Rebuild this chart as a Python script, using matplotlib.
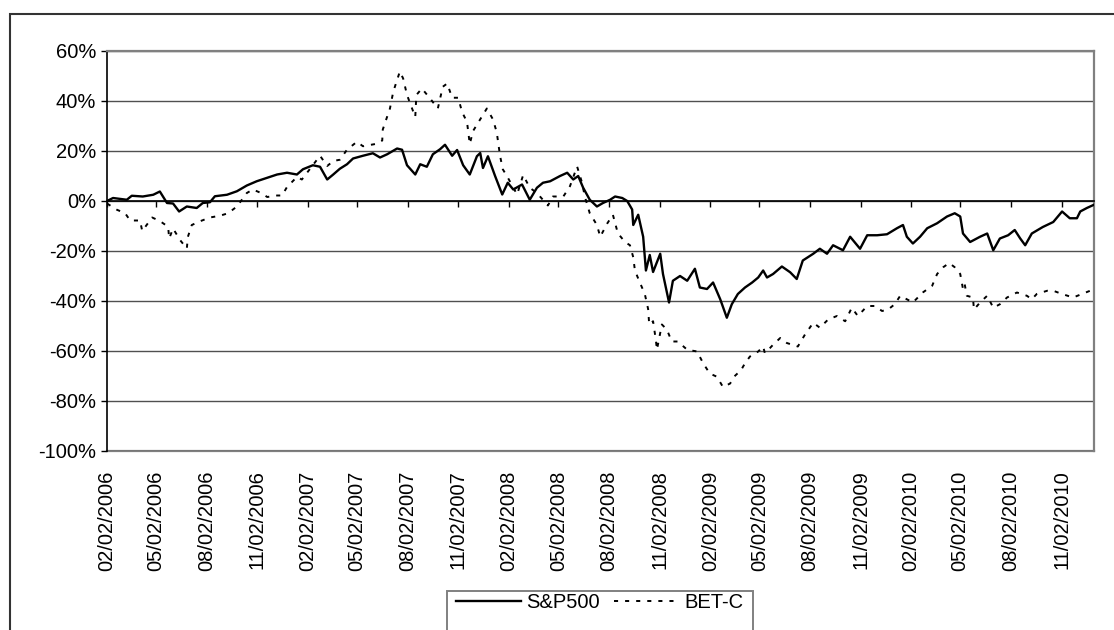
import matplotlib
matplotlib.use('Agg')
import matplotlib.pyplot as plt
import matplotlib.patches as mpatches
import pandas as pd

plt.rcParams['font.family'] = ['Liberation Sans', 'DejaVu Sans']

# ── data (days since 02/02/2006, cumulative return in %) ─────────────────────
START = '2006-02-02'

sp_days = [0, 11, 36, 45, 65, 84, 96, 109, 120, 131, 145, 163, 174, 187, 196, 218, 236,
           254, 272, 291, 309, 327, 345, 356, 374, 387, 400, 411, 423, 436, 447, 465,
           483, 496, 509, 527, 536, 545, 560, 569, 581, 592, 605, 614, 627, 636, 647,
           659, 672, 678, 683, 692, 705, 718, 728, 738, 754, 768, 781, 792, 805, 823,
           836, 847, 856, 865, 877, 890, 901, 914, 923, 936, 945, 954, 956, 965, 974,
           979, 986, 992, 1005, 1010, 1021, 1028, 1041, 1054, 1068, 1077, 1090, 1101,
           1114, 1126, 1135, 1146, 1159, 1172, 1183, 1192, 1199, 1210, 1226, 1241, 1253,
           1264, 1283, 1295, 1308, 1319, 1337, 1350, 1368, 1381, 1399, 1417, 1435, 1446,
           1453, 1464, 1477, 1490, 1508, 1526, 1540, 1550, 1555, 1568, 1586, 1599, 1610,
           1622, 1637, 1649, 1659, 1668, 1680, 1700, 1719, 1735, 1749, 1762, 1768, 1780,
           1793]
sp_vals = [0.0, 1.2, 0.5, 2.1, 1.8, 2.5, 3.8, -0.8, -1.0, -4.2, -2.2, -2.8, -0.8, -0.5,
           1.9, 2.5, 3.9, 6.2, 7.9, 9.3, 10.6, 11.3, 10.6, 12.7, 14.3, 13.7, 8.6, 10.6,
           12.9, 14.7, 17.0, 18.1, 19.1, 17.4, 18.7, 21.0, 20.5, 14.3, 10.6, 14.7, 13.7,
           18.7, 20.7, 22.5, 18.1, 20.4, 14.3, 10.6, 17.9, 19.2, 13.2, 17.9, 10.0, 2.6,
           7.3, 4.6, 6.6, 0.5, 5.3, 7.3, 7.9, 10.0, 11.3, 8.6, 10.0, 5.3, 0.5, -2.2, -0.8,
           0.5, 1.8, 1.2, 0.0, -3.4, -9.6, -5.5, -14.3, -27.8, -21.6, -28.4, -21.1, -29.2,
           -40.6, -31.9, -30.0, -31.9, -27.1, -34.6, -35.2, -32.6, -39.3, -46.7, -41.3,
           -37.2, -34.6, -32.6, -30.6, -27.8, -30.6, -29.2, -26.2, -28.5, -31.2, -23.8,
           -21.1, -19.1, -21.1, -17.7, -19.7, -14.3, -19.1, -13.7, -13.7, -13.3, -10.9,
           -9.6, -14.3, -17.0, -14.3, -10.9, -8.9, -6.2, -4.9, -6.2, -13.0, -16.4, -14.3,
           -13.0, -19.7, -15.0, -13.7, -11.6, -15.0, -17.7, -13.0, -10.4, -8.4, -4.2, -6.9,
           -6.9, -4.2, -2.8, -1.5]

bet_days = [0, 18, 33, 42, 60, 64, 82, 96, 111, 113, 120, 133, 145, 147, 154, 169, 187,
            205, 220, 236, 254, 265, 282, 291, 309, 318, 327, 345, 354, 369, 387, 400,
            411, 423, 436, 454, 465, 478, 490, 500, 501, 514, 520, 532, 538, 545, 560,
            562, 572, 587, 601, 610, 618, 627, 638, 645, 654, 659, 665, 678, 690, 701,
            708, 714, 719, 728, 745, 756, 768, 781, 801, 810, 829, 841, 854, 863, 868,
            877, 890, 896, 909, 919, 928, 941, 950, 956, 959, 968, 977, 983, 985, 992,
            997, 999, 1008, 1017, 1026, 1037, 1054, 1072, 1083, 1095, 1108, 1119, 1132,
            1139, 1152, 1159, 1168, 1183, 1192, 1195, 1204, 1210, 1223, 1235, 1255, 1268,
            1283, 1295, 1310, 1326, 1341, 1353, 1364, 1381, 1395, 1408, 1419, 1431, 1441,
            1453, 1464, 1482, 1499, 1508, 1519, 1530, 1540, 1550, 1555, 1558, 1562, 1573,
            1575, 1586, 1599, 1610, 1622, 1635, 1653, 1671, 1680, 1689, 1708, 1719, 1735,
            1755, 1771, 1786]
bet_vals = [-1.0, -3.5, -4.9, -7.8, -7.8, -12.0, -6.6, -8.0, -10.3, -15.0, -11.0, -15.7,
            -19.0, -14.3, -9.6, -8.1, -6.6, -5.9, -4.9, -2.2, 3.2, 4.6, 3.0, 1.6, 2.2, 2.2,
            5.6, 9.6, 8.6, 12.9, 18.1, 14.0, 16.0, 16.5, 20.5, 23.7, 21.9, 22.4, 22.9, 24.2,
            28.6, 37.0, 43.7, 51.8, 49.0, 42.4, 33.6, 42.4, 45.0, 41.0, 37.0, 45.7, 47.0,
            41.3, 41.3, 35.6, 31.6, 22.8, 28.0, 32.7, 37.0, 32.7, 27.5, 18.1, 12.7, 9.4,
            2.6, 10.4, 5.3, 3.2, -1.8, 1.8, 1.8, 5.9, 13.8, 7.3, 1.8, -4.9, -9.6, -14.3,
            -8.9, -5.5, -12.9, -16.4, -17.7, -22.5, -27.8, -32.6, -37.2, -43.2, -49.4,
            -48.1, -55.5, -59.5, -49.4, -51.4, -56.2, -56.2, -59.5, -60.2, -64.9, -69.0,
            -70.3, -74.4, -73.0, -70.3, -67.6, -64.9, -62.2, -60.2, -58.2, -60.8, -58.9,
            -57.5, -54.8, -56.8, -58.2, -53.4, -48.7, -50.7, -47.4, -46.0, -48.1, -42.7,
            -46.0, -42.0, -42.0, -44.0, -43.4, -41.3, -37.9, -39.3, -40.6, -36.6, -33.9,
            -29.2, -26.5, -24.8, -26.5, -29.2, -35.2, -33.2, -37.9, -38.6, -43.4, -40.6,
            -37.9, -42.7, -41.3, -38.6, -36.6, -37.9, -39.3, -37.2, -35.9, -35.9, -37.2,
            -38.6, -37.2, -35.9]

tick_labels = ['02/02/2006', '05/02/2006', '08/02/2006', '11/02/2006',
               '02/02/2007', '05/02/2007', '08/02/2007', '11/02/2007',
               '02/02/2008', '05/02/2008', '08/02/2008', '11/02/2008',
               '02/02/2009', '05/02/2009', '08/02/2009', '11/02/2009',
               '02/02/2010', '05/02/2010', '08/02/2010', '11/02/2010']
END_DAY = 1793  # 31/12/2010

start = pd.Timestamp(START)
tick_days = [(pd.to_datetime(t, format='%m/%d/%Y') - start).days for t in tick_labels]

# ── figure ────────────────────────────────────────────────────────────────────
W, H = 1114, 630
fig = plt.figure(figsize=(W / 100, H / 100), dpi=100, facecolor='white')
ax = fig.add_axes([107 / W, 1 - 451 / H, (1094 - 107) / W, (451 - 51) / H])

ax.plot(sp_days, sp_vals, color='black', lw=1.7, label='S&P500', zorder=3)
ax.plot(bet_days, bet_vals, color='black', lw=1.4, ls=(0, (2.1, 3.6)),
        label='BET-C', zorder=3)

ax.set_xlim(0, END_DAY)
ax.set_ylim(-100, 60)
ax.set_yticks(range(-100, 61, 20))
ax.set_yticklabels([f'{v}%' for v in range(-100, 61, 20)], fontsize=14.5)
ax.yaxis.grid(True, color='#505050', lw=1.0)
ax.set_axisbelow(True)

# axes lines
ax.spines['left'].set_color('black')
ax.spines['left'].set_linewidth(1.2)
ax.spines['bottom'].set_position(('data', 0))
ax.spines['bottom'].set_color('black')
ax.spines['bottom'].set_linewidth(1.2)
for s in ('top', 'right'):
    ax.spines[s].set_color('#808080')
    ax.spines[s].set_linewidth(1.6)

ax.tick_params(axis='y', direction='out', length=4, width=1, pad=4, colors='black')
ax.set_xticks(tick_days)
ax.tick_params(axis='x', direction='out', length=4, width=1, labelbottom=False)

# date labels at the bottom of the plot area
sec = ax.secondary_xaxis(0.0)
sec.set_xticks(tick_days)
sec.set_xticklabels(tick_labels, rotation=90, fontsize=14.5)
sec.tick_params(length=0, pad=14)
sec.spines['bottom'].set_color('#808080')
sec.spines['bottom'].set_linewidth(1.6)

# legend
leg = fig.legend(loc='center', bbox_to_anchor=(600 / W, 1 - 603 / H), ncol=2,
                 frameon=False, fontsize=14.5, handlelength=3.2, handletextpad=0.3,
                 columnspacing=0.7, borderpad=0)
fig.patches.append(mpatches.Rectangle((447 / W, -0.1), (753 - 447) / W, 0.1 + 1 - 591 / H,
                                      transform=fig.transFigure, fill=False,
                                      ec='#808080', lw=1.4))

# outer chart border
fig.patches.append(mpatches.Rectangle((10 / W, -0.1), 1.2, 0.1 + 1 - 14 / H,
                                      transform=fig.transFigure, fill=False,
                                      ec='#333333', lw=1.5))

fig.savefig('out.png', dpi=100, facecolor='white')
